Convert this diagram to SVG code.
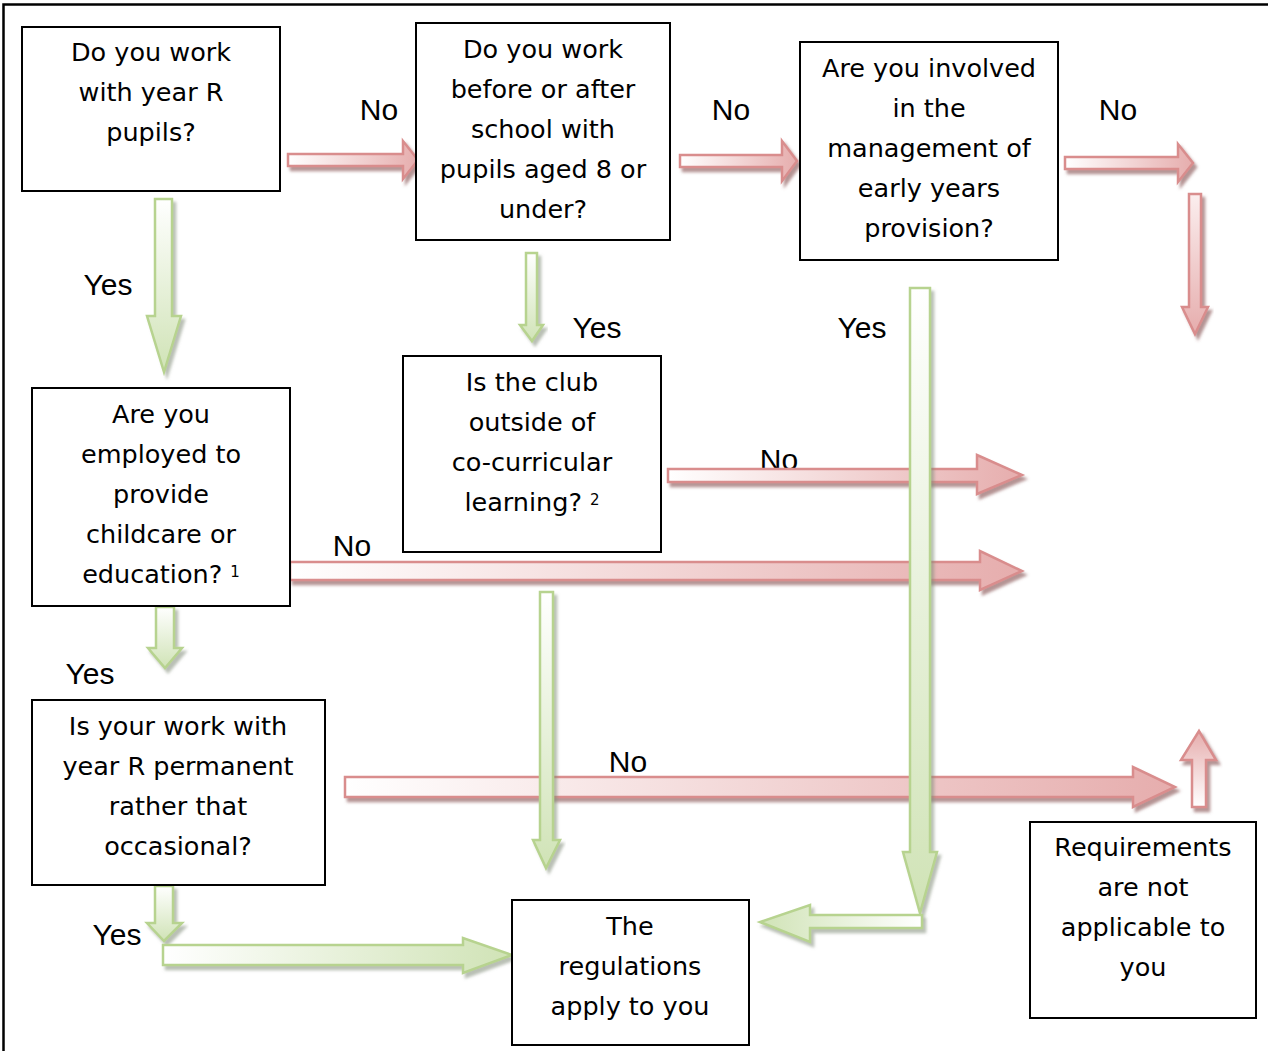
<svg xmlns="http://www.w3.org/2000/svg" width="1268" height="1051" viewBox="0 0 1268 1051">
<style>
.box{fill:#fff;stroke:#000;stroke-width:2}
.bt{font-family:"DejaVu Sans",sans-serif;font-size:25.5px;fill:#000;text-anchor:middle}
.lbl{font-family:"Liberation Sans",Arial,sans-serif;font-size:30px;fill:#000;text-anchor:middle}
.red{stroke:#d98d8d;stroke-width:2.5;stroke-linejoin:miter;filter:url(#shR)}
.grn{stroke:#b7d38f;stroke-width:2.5;stroke-linejoin:miter;filter:url(#shG)}
.sup{font-size:15px}
</style>
<defs>
<linearGradient id="rR" x1="0" y1="0" x2="1" y2="0"><stop offset="0" stop-color="#ffffff"/><stop offset="1" stop-color="#e6adad"/></linearGradient>
<linearGradient id="rD" x1="0" y1="0" x2="0" y2="1"><stop offset="0" stop-color="#fbeeee"/><stop offset="1" stop-color="#e6adad"/></linearGradient>
<linearGradient id="rU" x1="0" y1="1" x2="0" y2="0"><stop offset="0" stop-color="#ffffff"/><stop offset="1" stop-color="#e6adad"/></linearGradient>
<linearGradient id="gD" x1="0" y1="0" x2="0" y2="1"><stop offset="0" stop-color="#ffffff"/><stop offset="1" stop-color="#d0e3b6"/></linearGradient>
<linearGradient id="gR" x1="0" y1="0" x2="1" y2="0"><stop offset="0" stop-color="#ffffff"/><stop offset="1" stop-color="#d0e3b6"/></linearGradient>
<linearGradient id="gL" x1="1" y1="0" x2="0" y2="0"><stop offset="0" stop-color="#ffffff"/><stop offset="1" stop-color="#d0e3b6"/></linearGradient>
<filter id="shR" x="-20%" y="-20%" width="140%" height="160%"><feDropShadow dx="3" dy="4" stdDeviation="1.5" flood-color="#8c5a5a" flood-opacity="0.65"/></filter>
<filter id="shG" x="-20%" y="-20%" width="140%" height="160%"><feDropShadow dx="3" dy="4" stdDeviation="1.5" flood-color="#808a78" flood-opacity="0.55"/></filter>
</defs>
<rect width="1268" height="1051" fill="#fff"/>
<path d="M3.5,1051 V4.5 H1268" fill="none" stroke="#000" stroke-width="2.5"/>

<g id="labels">
<text class="lbl" x="379" y="120">No</text>
<text class="lbl" x="731" y="120">No</text>
<text class="lbl" x="1118" y="120">No</text>
<text class="lbl" x="108" y="295">Yes</text>
<text class="lbl" x="597" y="338">Yes</text>
<text class="lbl" x="862" y="338">Yes</text>
<text class="lbl" x="779" y="470">No</text>
<text class="lbl" x="352" y="556">No</text>
<text class="lbl" x="90" y="684">Yes</text>
<text class="lbl" x="628" y="772">No</text>
<text class="lbl" x="117" y="945">Yes</text>
</g>

<g id="connectors">
<path class="red" fill="url(#rR)" d="M288,154 H403 V141 L418,160 L403,179 V166 H288 Z"/>
<path class="red" fill="url(#rR)" d="M680,155 H782 V141 L797,161 L782,181 V167 H680 Z"/>
<path class="red" fill="url(#rR)" d="M1065,157 H1178 V144 L1193,163 L1178,182 V169 H1065 Z"/>
<path class="red" fill="url(#rD)" d="M1189,194 H1201 V307 H1208 L1195,334 L1182,307 H1189 Z"/>
<path class="red" fill="url(#rR)" d="M668,469 H977 V455 L1022,475 L977,494 V482 H668 Z"/>
<path class="red" fill="url(#rR)" d="M290,562 H980 V551 L1022,571 L980,590 V580 H290 Z"/>
<path class="red" fill="url(#rR)" d="M345,777 H1133 V767 L1175,787 L1133,807 V797 H345 Z"/>
<path class="red" fill="url(#rU)" d="M1192,807 V760 H1181 L1199,731 L1216,760 H1206 V807 Z"/>

<path class="grn" fill="url(#gD)" d="M155,199 H172 V316 H181 L164,372 L147,316 H155 Z"/>
<path class="grn" fill="url(#gD)" d="M526,253 H537 V325 H543 L532,341 L520,325 H526 Z"/>
<path class="grn" fill="url(#gD)" d="M156,607 H174 V648 H182 L165,668 L148,648 H156 Z"/>
<path class="grn" fill="url(#gD)" d="M155,886 H173 V923 H182 L164,941 L147,923 H155 Z"/>
<path class="grn" fill="url(#gR)" d="M163,945 H463 V938 L512,955 L463,973 V965 H163 Z"/>
<path class="grn" fill="url(#gD)" d="M540,592 H553 V840 H560 L546,868 L533,840 H540 Z"/>
<path class="grn" fill="url(#gD)" d="M910,288 H930 V852 H937 L920,913 L903,852 H910 Z"/>
<path class="grn" fill="url(#gL)" d="M922,915 V928 H810 V942 L760,922 L810,905 V915 Z"/>
</g>

<g id="n1">
<rect class="box" x="22" y="27" width="258" height="164"/>
<text class="bt" x="151"><tspan x="151" y="61">Do you work</tspan><tspan x="151" y="101">with year R</tspan><tspan x="151" y="141">pupils?</tspan></text>
</g>
<g id="n2">
<rect class="box" x="416" y="23" width="254" height="217"/>
<text class="bt"><tspan x="543" y="58">Do you work</tspan><tspan x="543" y="98">before or after</tspan><tspan x="543" y="138">school with</tspan><tspan x="543" y="178">pupils aged 8 or</tspan><tspan x="543" y="218">under?</tspan></text>
</g>
<g id="n3">
<rect class="box" x="800" y="42" width="258" height="218"/>
<text class="bt"><tspan x="929" y="77">Are you involved</tspan><tspan x="929" y="117">in the</tspan><tspan x="929" y="157">management of</tspan><tspan x="929" y="197">early years</tspan><tspan x="929" y="237">provision?</tspan></text>
</g>
<g id="n4">
<rect class="box" x="32" y="388" width="258" height="218"/>
<text class="bt"><tspan x="161" y="423">Are you</tspan><tspan x="161" y="463">employed to</tspan><tspan x="161" y="503">provide</tspan><tspan x="161" y="543">childcare or</tspan><tspan x="161" y="583">education? <tspan class="sup" dy="-6">1</tspan></tspan></text>
</g>
<g id="n5">
<rect class="box" x="403" y="356" width="258" height="196"/>
<text class="bt"><tspan x="532" y="391">Is the club</tspan><tspan x="532" y="431">outside of</tspan><tspan x="532" y="471">co-curricular</tspan><tspan x="532" y="511">learning? <tspan class="sup" dy="-6">2</tspan></tspan></text>
</g>
<g id="n6">
<rect class="box" x="32" y="700" width="293" height="185"/>
<text class="bt"><tspan x="178" y="735">Is your work with</tspan><tspan x="178" y="775">year R permanent</tspan><tspan x="178" y="815">rather that</tspan><tspan x="178" y="855">occasional?</tspan></text>
</g>
<g id="n7">
<rect class="box" x="512" y="900" width="237" height="145"/>
<text class="bt"><tspan x="630" y="935">The</tspan><tspan x="630" y="975">regulations</tspan><tspan x="630" y="1015">apply to you</tspan></text>
</g>
<g id="n8">
<rect class="box" x="1030" y="822" width="226" height="196"/>
<text class="bt"><tspan x="1143" y="856">Requirements</tspan><tspan x="1143" y="896">are not</tspan><tspan x="1143" y="936">applicable to</tspan><tspan x="1143" y="976">you</tspan></text>
</g>
</svg>
